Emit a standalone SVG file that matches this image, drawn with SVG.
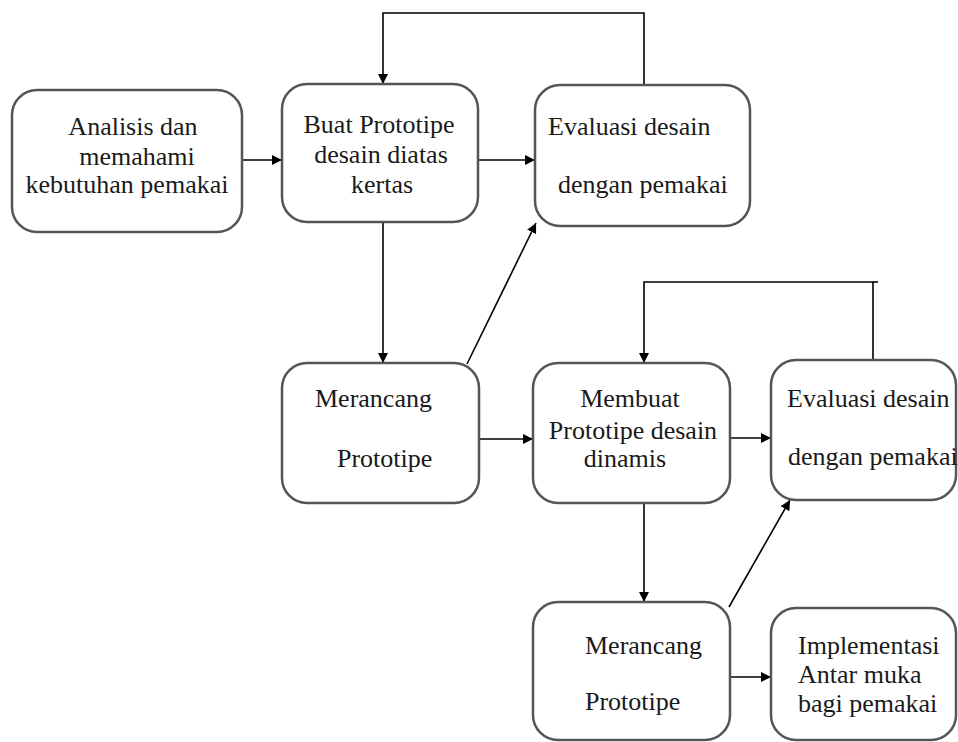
<svg xmlns="http://www.w3.org/2000/svg" width="958" height="742" viewBox="0 0 958 742">
<defs>
<marker id="ah" viewBox="0 0 10 10" refX="10" refY="5" markerWidth="10" markerHeight="10" markerUnits="userSpaceOnUse" orient="auto">
<path d="M0,0 L10,5 L0,10 z" fill="#000"/>
</marker>
<style>
.box{fill:#fff;stroke:#555;stroke-width:2.5}
.c{fill:none;stroke:#000;stroke-width:1.6}
.a{marker-end:url(#ah)}
.t{font-family:'Liberation Serif','Tinos','Times New Roman','DejaVu Serif',serif;font-size:26px;fill:#1a1a1a}
.m{text-anchor:middle}
</style>
</defs>
<rect width="958" height="742" fill="#fff"/>
<g id="connectors">
<polyline class="c a" points="644,85 644,13 383,13 383,84"/>
<line class="c a" x1="242" y1="160" x2="282" y2="160"/>
<line class="c a" x1="478" y1="160" x2="535" y2="160"/>
<line class="c a" x1="383" y1="222" x2="383" y2="363"/>
<line class="c a" x1="467" y1="364" x2="536" y2="223"/>
<line class="c a" x1="479" y1="439" x2="533" y2="439"/>
<polyline class="c a" points="873,360 873,282 644,282 644,363"/>
<line class="c" x1="873" y1="282" x2="878" y2="282"/>
<line class="c a" x1="730" y1="438" x2="771" y2="438"/>
<line class="c a" x1="644" y1="503" x2="644" y2="602"/>
<line class="c a" x1="729" y1="607" x2="790" y2="500"/>
<line class="c a" x1="730" y1="677" x2="771" y2="677"/>
</g>
<g id="n1" class="t" font-family="Liberation Serif, serif">
<rect class="box" x="12" y="90" width="230" height="142" rx="25"/>
<text class="m" x="133" y="135">Analisis dan</text>
<text class="m" x="137" y="165">memahami</text>
<text class="m" x="127" y="193">kebutuhan pemakai</text>
</g>
<g id="n2" class="t" font-family="Liberation Serif, serif">
<rect class="box" x="282" y="84" width="196" height="138" rx="25"/>
<text class="m" x="379" y="133">Buat Prototipe</text>
<text class="m" x="381" y="163">desain diatas</text>
<text class="m" x="382" y="193">kertas</text>
</g>
<g id="n3" class="t" font-family="Liberation Serif, serif">
<rect class="box" x="535" y="85" width="215" height="141" rx="25"/>
<text x="548" y="135">Evaluasi desain</text>
<text x="558" y="193">dengan pemakai</text>
</g>
<g id="n4" class="t" font-family="Liberation Serif, serif">
<rect class="box" x="282" y="363" width="197" height="140" rx="25"/>
<text x="315" y="407">Merancang</text>
<text x="337" y="467">Prototipe</text>
</g>
<g id="n5" class="t" font-family="Liberation Serif, serif">
<rect class="box" x="533" y="363" width="197" height="140" rx="25"/>
<text class="m" x="630" y="407">Membuat</text>
<text class="m" x="633" y="439">Prototipe desain</text>
<text class="m" x="625" y="467">dinamis</text>
</g>
<g id="n6" class="t" font-family="Liberation Serif, serif">
<rect class="box" x="771" y="360" width="185" height="140" rx="25"/>
<text x="787" y="407">Evaluasi desain</text>
<text x="788" y="465">dengan pemakai</text>
</g>
<g id="n7" class="t" font-family="Liberation Serif, serif">
<rect class="box" x="533" y="602" width="197" height="138" rx="25"/>
<text x="585" y="654">Merancang</text>
<text x="585" y="710">Prototipe</text>
</g>
<g id="n8" class="t" font-family="Liberation Serif, serif">
<rect class="box" x="771" y="608" width="185" height="132" rx="25"/>
<text x="798" y="654">Implementasi</text>
<text x="798" y="683">Antar muka</text>
<text x="798" y="712">bagi pemakai</text>
</g>
</svg>
